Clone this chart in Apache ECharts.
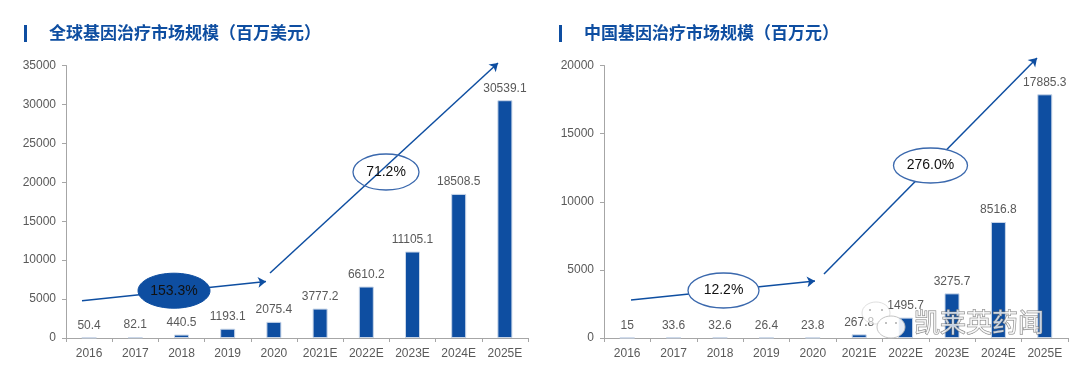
<!DOCTYPE html>
<html>
<head>
<meta charset="utf-8">
<style>html,body{margin:0;padding:0;background:#fff}#main{width:1080px;height:370px}</style>
<script src="https://cdn.jsdelivr.net/npm/echarts@6/dist/echarts.min.js"></script>
</head>
<body>
<div id="main"></div>
<script>
const categories = ['2016', '2017', '2018', '2019', '2020', '2021E', '2022E', '2023E', '2024E', '2025E'];
const globalValues = [50.4, 82.1, 440.5, 1193.1, 2075.4, 3777.2, 6610.2, 11105.1, 18508.5, 30539.1];
const chinaValues = [15, 33.6, 32.6, 26.4, 23.8, 267.8, 1495.7, 3275.7, 8516.8, 17885.3];
const globalTitle = '全球基因治疗市场规模（百万美元）';
const chinaTitle = '中国基因治疗市场规模（百万元）';
const watermark = '凯莱英药闻';

const BLUE = '#0e4ea1';
const GREY = '#595959';
const FONT = '"Liberation Sans", Arial, sans-serif';
const CJK = '"Noto Sans CJK SC", sans-serif';

const xAxis = gridIndex => ({
    type: 'category',
    gridIndex,
    data: categories,
    axisLine: {lineStyle: {color: '#a6a6a6', width: 1}},
    axisTick: {show: true, alignWithLabel: false, length: 4, lineStyle: {color: '#a6a6a6'}},
    axisLabel: {color: GREY, fontSize: 12, fontFamily: FONT, margin: 10, interval: 0}
});
const yAxis = (gridIndex, max, interval) => ({
    type: 'value',
    gridIndex,
    min: 0,
    max,
    interval,
    splitLine: {show: false},
    axisLine: {show: true, lineStyle: {color: '#a6a6a6', width: 1}},
    axisTick: {show: true, length: 4, lineStyle: {color: '#a6a6a6'}},
    axisLabel: {color: GREY, fontSize: 12, fontFamily: FONT, margin: 10, formatter: v => String(v)}
});
// 箭头用像素坐标的markLine画
const arrows = list => ({
    silent: true,
    animation: false,
    symbol: ['none', 'arrow'],
    symbolSize: 8,
    label: {show: false},
    lineStyle: {color: BLUE, width: 1.5, type: 'solid'},
    data: list.map(a => [{x: a[0], y: a[1]}, {x: a[2], y: a[3]}])
});
const bars = (name, data, gridIdx, arrowList) => ({
    name,
    type: 'bar',
    xAxisIndex: gridIdx,
    yAxisIndex: gridIdx,
    data,
    barWidth: 15,
    itemStyle: {color: BLUE, borderColor: '#c9d6e8', borderWidth: 1},
    label: {show: true, position: 'top', distance: 6, color: GREY, fontSize: 12, fontFamily: FONT},
    markLine: arrows(arrowList)
});
const ellipse = (cx, cy, rx, ry, text, filled) => [
    {
        type: 'ellipse', z: 20,
        shape: {cx, cy, rx, ry},
        style: filled ? {fill: BLUE, stroke: BLUE} : {fill: text === '71.2%' ? 'transparent' : '#fff', stroke: '#3a68ad', lineWidth: 1.3}
    },
    {
        type: 'text', z: 21, x: cx, y: cy,
        style: {text, fill: '#111', font: '14px ' + FONT, align: 'center', verticalAlign: 'middle'}
    }
];
const heading = (barX, textX, text) => [
    {type: 'rect', z: 5, shape: {x: barX, y: 25, width: 3, height: 17}, style: {fill: BLUE}},
    {type: 'text', z: 5, x: textX, y: 33, style: {text, fill: BLUE, font: 'bold 17px ' + CJK, verticalAlign: 'middle'}}
];
const dot = (cx, cy, r) => ({type: 'circle', z: 33, shape: {cx, cy, r}, style: {fill: 'rgba(150,150,150,0.8)'}});

const chart = echarts.init(document.getElementById('main'), null, {renderer: 'canvas'});
chart.setOption({
    animation: false,
    backgroundColor: '#fff',
    grid: [
        {left: 66, top: 65.5, width: 462, height: 272.5, containLabel: false},
        {left: 604, top: 65.5, width: 464, height: 272.5, containLabel: false}
    ],
    xAxis: [xAxis(0), xAxis(1)],
    yAxis: [yAxis(0, 35000, 5000), yAxis(1, 20000, 5000)],
    series: [
        bars('全球', globalValues, 0, [[82, 300.7, 266, 281.5], [270, 273, 498, 63]]),
        bars('中国', chinaValues, 1, [[631, 300, 815, 281], [824, 274, 1037, 58]])
    ],
    graphic: [
        ...heading(24, 49, globalTitle),
        ...heading(559, 584, chinaTitle),
        ...ellipse(174, 290.7, 36, 17.5, '153.3%', true),
        ...ellipse(386, 172, 33, 18, '71.2%', false),
        ...ellipse(723.5, 290.5, 35.5, 17.5, '12.2%', false),
        ...ellipse(930.5, 165.5, 37, 17.5, '276.0%', false),
        // 水印
        {type: 'ellipse', z: 30, shape: {cx: 876, cy: 313, rx: 14, ry: 11}, style: {fill: 'rgba(255,255,255,0.6)', stroke: 'rgba(215,215,215,0.8)', lineWidth: 1}},
        {type: 'ellipse', z: 31, shape: {cx: 891, cy: 327, rx: 14, ry: 11}, style: {fill: 'rgba(255,255,255,0.9)', stroke: 'rgba(190,190,190,0.9)', lineWidth: 1}},
        dot(870, 310, 1), dot(882, 310, 1), dot(886, 323, 1), dot(896, 323, 1),
        {type: 'text', z: 32, x: 914, y: 322, style: {text: watermark, fill: 'rgba(255,255,255,0.75)', stroke: 'rgba(110,110,110,0.9)', lineWidth: 1, font: '26px ' + CJK, verticalAlign: 'middle'}}
    ]
});
</script>
</body>
</html>
